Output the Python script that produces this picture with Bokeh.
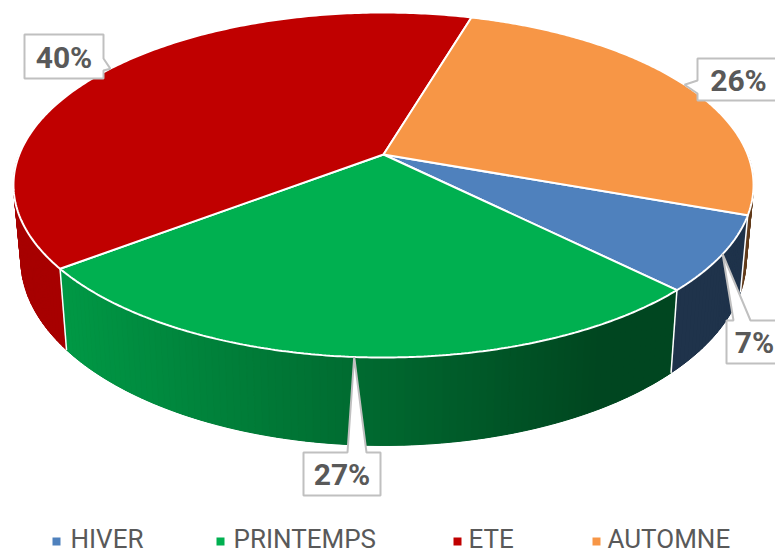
import numpy as np
from bokeh.plotting import figure
from bokeh.models import Range1d, ColumnDataSource
from bokeh.embed import file_html
from bokeh.resources import INLINE
from bokeh.core.properties import value

# ---------------- data ----------------
categories = ["HIVER", "PRINTEMPS", "ETE", "AUTOMNE"]
values = [7, 27, 40, 26]
colors = ["#4F81BD", "#00B050", "#C00000", "#F79646"]

# ---------------- layout / style ----------------
START_DEG = -20.0          # first slice starts here, slices go clockwise
CX, CY = 383.0, 154.0      # projected pie centre (screen px)
A, B = 364.2, 167.1        # projected radii
K = 0.1768                 # perspective factor
H = 72.4                   # wall height
SX = 0.98                  # horizontal shrink of bottom rim
TEXT_COLOR = "#595959"
BOX_LINE = "#C0C0C0"

label_layout = {
    "ETE":       dict(box=(24, 103, 34, 78),   side="right", base=(58, 70),   text=(63.5, 57)),
    "AUTOMNE":   dict(box=(697, 800, 58, 100), side="left",  base=(80, 93),   text=(738, 80)),
    "HIVER":     dict(box=(726, 800, 320, 363), side="top",  base=(733, 750), text=(754, 342)),
    "PRINTEMPS": dict(box=(303, 380, 452, 495), side="top",  base=(347, 366), text=(341.5, 474)),
}
legend_marker_x = [56, 220, 457, 596]
legend_text_x = [70, 233, 468, 607]
legend_y_text = 538
legend_y_marker = 541


def proj(phi_deg, bottom=False):
    t = np.radians(phi_deg)
    u, v = np.cos(t), np.sin(t)
    w = 1 + K * v
    x = CX + A * u / w
    y = CY - B * v / w
    if bottom:
        x = CX + (x - CX) * SX
        y = y + H / w
    return x, y


def shade(hex_color, x):
    f = float(np.interp(x, [60, 600], [0.87, 0.40]))
    r, g, b = (int(hex_color[i:i + 2], 16) for i in (1, 3, 5))
    return "#%02x%02x%02x" % (int(r * f), int(g * f), int(b * f))


total = float(sum(values))
bounds = [START_DEG]
for val in values:
    bounds.append(bounds[-1] - 360.0 * val / total)

p = figure(width=775, height=552, x_range=Range1d(0, 775), y_range=Range1d(552, 0),
           output_backend="svg", toolbar_location=None, min_border=0,
           x_axis_location=None, y_axis_location=None,
           outline_line_color=None, background_fill_color="white")
p.grid.visible = False

# ---------------- side walls ----------------
base_walls = []
strips = []
for i, col in enumerate(colors):
    a0, a1 = bounds[i], bounds[i + 1]
    for shift in (0, 360, -360):
        hi = min(a0 + shift, 0.0)
        lo = max(a1 + shift, -180.0)
        if lo < hi:
            n = max(int((hi - lo) / 1.0), 1)
            ph = np.linspace(hi, lo, n + 1)
            xt, yt = proj(ph)
            xb, yb = proj(ph, True)
            vm = np.sin(np.radians(0.5 * (hi + lo)))
            base_walls.append((vm, list(xt) + list(xb[::-1]), list(yt) + list(yb[::-1]),
                               shade(col, float(np.mean(xt)))))
            for j in range(n):
                vmid = np.sin(np.radians(0.5 * (ph[j] + ph[j + 1])))
                c = shade(col, 0.5 * (xt[j] + xt[j + 1]))
                strips.append((vmid, [xt[j], xt[j + 1], xb[j + 1], xb[j]],
                               [yt[j], yt[j + 1], yb[j + 1], yb[j]], c))
base_walls.sort(key=lambda s: -s[0])
strips.sort(key=lambda s: -s[0])
p.patches([s[1] for s in base_walls], [s[2] for s in base_walls],
          fill_color=[s[3] for s in base_walls], line_color=None)
ws = ColumnDataSource(dict(xs=[s[1] for s in strips], ys=[s[2] for s in strips],
                           c=[s[3] for s in strips]))
p.patches("xs", "ys", source=ws, fill_color="c", line_color="c", line_width=1.0)

# seams between slices on the wall
for b in bounds[:-1]:
    bb = ((b + 180) % 360) - 180
    if -170 < bb < -10:
        xt, yt = proj(bb)
        xb, yb = proj(bb, True)
        p.line([xt, xb], [yt, yb], line_color="white", line_width=1.5)

# ---------------- top faces ----------------
txs, tys = [], []
for i in range(len(values)):
    ph = np.linspace(bounds[i], bounds[i + 1], 200)
    x, y = proj(ph)
    txs.append([CX] + list(x))
    tys.append([CY] + list(y))
p.patches(txs, tys, fill_color=colors, line_color="white", line_width=2)

# ---------------- callout labels ----------------
bxs, bys, lx, ly, ltxt = [], [], [], [], []
for i, cat in enumerate(categories):
    lay = label_layout[cat]
    mid = 0.5 * (bounds[i] + bounds[i + 1])
    tx, ty = proj(mid)
    x0, x1, y0, y1 = lay["box"]
    b0, b1 = lay["base"]
    if lay["side"] == "top":
        pts = [(x0, y0), (b0, y0), (tx, ty), (b1, y0), (x1, y0), (x1, y1), (x0, y1)]
    elif lay["side"] == "right":
        pts = [(x0, y0), (x1, y0), (x1, b0), (tx, ty), (x1, b1), (x1, y1), (x0, y1)]
    else:
        pts = [(x0, y0), (x1, y0), (x1, y1), (x0, y1), (x0, b1), (tx, ty), (x0, b0)]
    bxs.append([q[0] for q in pts])
    bys.append([q[1] for q in pts])
    lx.append(lay["text"][0])
    ly.append(lay["text"][1])
    ltxt.append("%d%%" % round(100 * values[i] / total))
p.patches(bxs, bys, fill_color="white", line_color=BOX_LINE, line_width=2)
p.text(x=lx, y=ly, text=ltxt, text_font=value("Roboto"), text_font_style="bold",
       text_font_size="30px", text_color=TEXT_COLOR, text_align="center",
       text_baseline="middle")

# ---------------- legend ----------------
p.scatter(x=legend_marker_x, y=[legend_y_marker] * 4, marker="square", size=8,
          fill_color=colors, line_color=None)
p.text(x=legend_text_x, y=[legend_y_text] * 4, text=categories,
       text_font=value("Roboto"), text_font_size="26px", text_color=TEXT_COLOR,
       text_align="left", text_baseline="middle")

open("out.html", "w").write(file_html(p, INLINE))
